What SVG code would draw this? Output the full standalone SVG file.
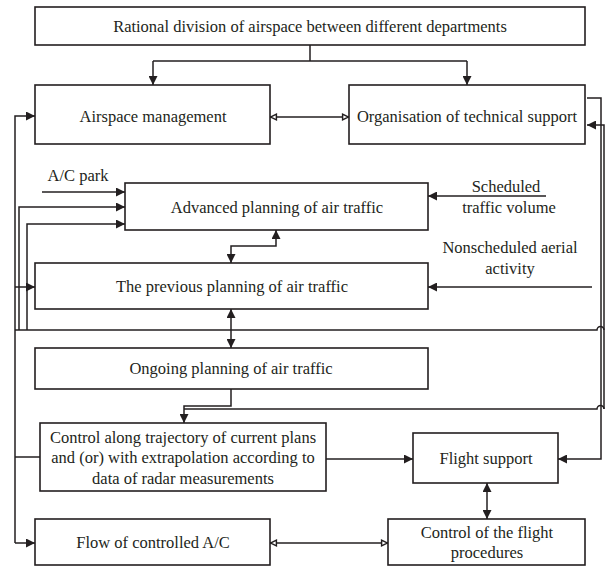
<svg xmlns="http://www.w3.org/2000/svg" width="605" height="568" viewBox="0 0 605 568">
<defs>
<style>
.box{fill:#fff;stroke:#231f20;stroke-width:1.6}
.ln{fill:none;stroke:#231f20;stroke-width:1.5}
.t{font-family:"Liberation Serif","Times New Roman",serif;font-size:16.5px;fill:#231f20;text-anchor:middle}
</style>
<marker id="af" viewBox="0 0 10 10" refX="10" refY="5" markerWidth="9" markerHeight="9" markerUnits="userSpaceOnUse" orient="auto-start-reverse"><path d="M0,0 L10,5 L0,10 z" fill="#231f20"/></marker>
<marker id="ah" viewBox="0 0 10 10" refX="9.5" refY="5" markerWidth="8" markerHeight="8" markerUnits="userSpaceOnUse" orient="auto-start-reverse"><path d="M1.5,1.5 L9,5 L1.5,8.5 z" fill="#fff" stroke="#231f20" stroke-width="1.8"/></marker>
</defs>
<rect width="605" height="568" fill="#fff"/>
<g id="connectors">
<path class="ln" d="M310 45 V61 M153 61 H467"/>
<path class="ln" d="M153 61 V85" marker-end="url(#af)"/>
<path class="ln" d="M467 61 V85" marker-end="url(#af)"/>
<path class="ln" d="M270 117 H349" marker-start="url(#ah)" marker-end="url(#ah)"/>
<path class="ln" d="M15 543 V116 H35" marker-end="url(#af)"/>
<path class="ln" d="M15 287 H35" marker-end="url(#af)"/>
<path class="ln" d="M15 457 H40"/>
<path class="ln" d="M15 543 H35" marker-end="url(#af)"/>
<path class="ln" d="M42 192 H125" marker-end="url(#af)"/>
<path class="ln" d="M19 330 V207 H125" marker-end="url(#af)"/>
<path class="ln" d="M27 330 V224 H125" marker-end="url(#af)"/>
<path class="ln" d="M546 196 H428" marker-end="url(#af)"/>
<path class="ln" d="M276 230 V246 H231 V263" marker-start="url(#af)" marker-end="url(#af)"/>
<path class="ln" d="M592 287 H428" marker-end="url(#af)"/>
<path class="ln" d="M15 330 H597 A3.5 3.5 0 0 1 604 330"/>
<path class="ln" d="M231 309 V348" marker-start="url(#af)" marker-end="url(#af)"/>
<path class="ln" d="M231 389 V406 H184 V423" marker-end="url(#af)"/>
<path class="ln" d="M184 409 H597 A3.5 3.5 0 0 1 604 409"/>
<path class="ln" d="M604 409 V125 H587" marker-end="url(#af)"/>
<path class="ln" d="M587 98 H601 V459 H558" marker-end="url(#af)"/>
<path class="ln" d="M326 459 H413" marker-end="url(#af)"/>
<path class="ln" d="M487 483 V519" marker-start="url(#af)" marker-end="url(#af)"/>
<path class="ln" d="M270 543 H388" marker-start="url(#ah)" marker-end="url(#ah)"/>
</g>
<g id="n-top"><rect class="box" x="35" y="7" width="550" height="38"/><text class="t" x="310" y="32">Rational division of airspace between different departments</text></g>
<g id="n-airspace"><rect class="box" x="35" y="85" width="235" height="59"/><text class="t" x="153" y="122">Airspace management</text></g>
<g id="n-org"><rect class="box" x="349" y="85" width="236" height="59"/><text class="t" x="467" y="122">Organisation of technical support</text></g>
<g id="l-acpark"><text class="t" x="78" y="181">A/C park</text></g>
<g id="n-advanced"><rect class="box" x="125" y="183" width="303" height="47"/><text class="t" x="277" y="213">Advanced planning of air traffic</text></g>
<g id="l-scheduled"><text class="t" x="506" y="192">Scheduled</text><text class="t" x="509" y="213">traffic volume</text></g>
<g id="l-nonscheduled"><text class="t" x="510" y="253">Nonscheduled aerial</text><text class="t" x="510" y="274">activity</text></g>
<g id="n-previous"><rect class="box" x="35" y="263" width="393" height="46"/><text class="t" x="232" y="292">The previous planning of air traffic</text></g>
<g id="n-ongoing"><rect class="box" x="35" y="348" width="393" height="41"/><text class="t" x="231" y="374">Ongoing planning of air traffic</text></g>
<g id="n-control"><rect class="box" x="40" y="423" width="286" height="68"/><text class="t" x="183" y="443">Control along trajectory of current plans</text><text class="t" x="183" y="463">and (or) with extrapolation according to</text><text class="t" x="183" y="484">data of radar measurements</text></g>
<g id="n-flight"><rect class="box" x="413" y="433" width="145" height="50"/><text class="t" x="486" y="464">Flight support</text></g>
<g id="n-flow"><rect class="box" x="35" y="519" width="235" height="46"/><text class="t" x="153" y="548">Flow of controlled A/C</text></g>
<g id="n-cfp"><rect class="box" x="388" y="519" width="197" height="46"/><text class="t" x="487" y="538">Control of the flight</text><text class="t" x="487" y="558">procedures</text></g>
</svg>
